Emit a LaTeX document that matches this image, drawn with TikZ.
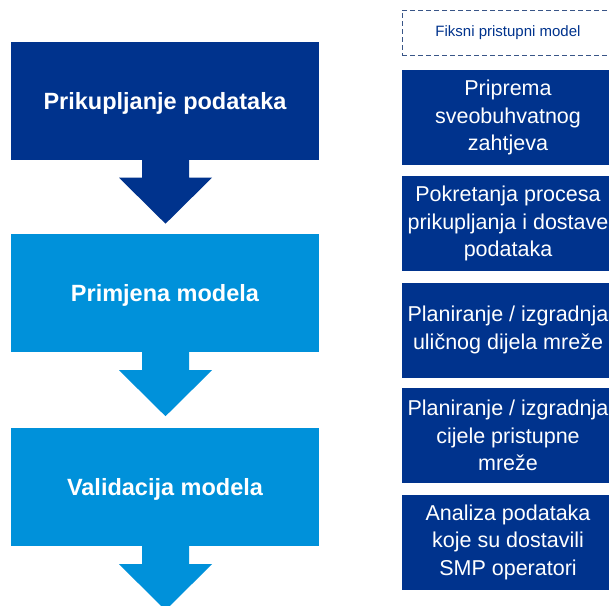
\documentclass[tikz,border=0pt]{standalone}
\usepackage{fontspec}
\setmainfont{Liberation Sans}
\definecolor{kdark}{HTML}{00338D}
\definecolor{klight}{HTML}{0091DA}
\tikzset{
  stage/.style={minimum width=308pt, minimum height=118pt, inner sep=0pt,
    text depth=0pt, text=white, font=\bfseries\fontsize{23.5}{28}\selectfont},
  task/.style={fill=kdark, minimum width=212pt, minimum height=95pt, inner sep=0pt,
    text=white, align=center, font=\fontsize{21.5}{27.5}\selectfont},
}
\newcommand{\blockarrow}[2]{%
  \fill[#1] ([xshift=-23pt]#2.south) -- ++(0,18) -- ++(-23,0) -- ++(46.5,46)
    -- ++(46.5,-46) -- ++(-23,0) -- ++(0,-18) -- cycle;}
\begin{document}
\begin{tikzpicture}[x=1pt,y=-1pt]
    \useasboundingbox (0,0) rectangle (609,605);
    \clip (0,0) rectangle (609,605);
    \fill[white] (0,0) rectangle (609,605);

    % Stages
    \node[stage, fill=kdark] (collect) at (165,100.5) {Prikupljanje podataka};
    \node[stage, fill=klight] (apply) at (165,293) {Primjena modela};
    \node[stage, fill=klight] (validate) at (165,487) {Validacija modela};

    \blockarrow{kdark}{collect}
    \blockarrow{klight}{apply}
    \blockarrow{klight}{validate}

    % Fixed access model
    \node[draw=kdark!55!gray, dash pattern=on 5pt off 3pt, line width=0.8pt,
      minimum width=212pt, minimum height=45pt, inner sep=0pt, text=kdark,
      font=\fontsize{15}{18}\selectfont] (fixed) at (508,32.5) {Fiksni pristupni model};

    \node[task] (prep) at (508,117.5) {Priprema\\sveobuhvatnog\\zahtjeva};
    \node[task] (launch) at (508,223.5) {Pokretanja procesa\\prikupljanja i dostave\\podataka};
    \node[task] (street) at (508,330) {Planiranje / izgradnja\\uličnog dijela mreže};
    \node[task] (whole) at (508,435.5) {Planiranje / izgradnja\\cijele pristupne\\mreže};
    \node[task] (smp) at (508,542) {Analiza podataka\\koje su dostavili\\SMP operatori};
  \end{tikzpicture}
\end{document}
